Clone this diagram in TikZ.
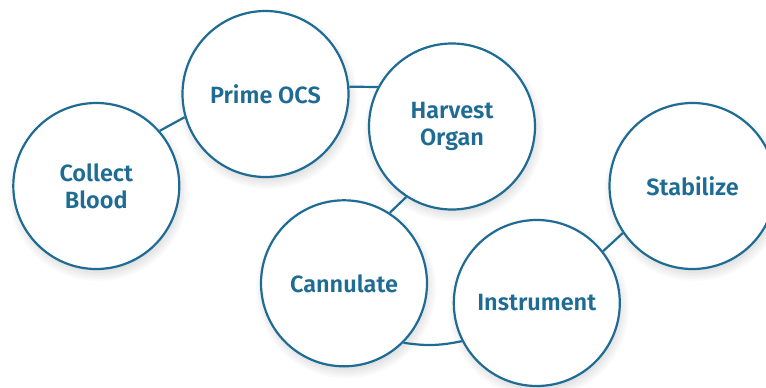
\documentclass[tikz,border=0pt]{standalone}
\usepackage{fontspec}
\setmainfont{Fira Sans}[BoldFont={Fira Sans SemiBold}]
\definecolor{teal}{RGB}{30,108,148}
\tikzset{
  stage/.style={circle, draw=teal, line width=2.2pt, fill=white, minimum size=166pt, inner sep=0pt,
    text=teal, font=\bfseries\fontsize{23.5}{26.7}\selectfont, align=center},
  link/.style={draw=teal, line width=2.2pt},
  shade/.style={fill=black, fill opacity=0.018, draw=none}
}
\begin{document}
\begin{tikzpicture}[x=1pt,y=-1pt]
\useasboundingbox[fill=white] (0,0) rectangle (766,388);
% soft shadows
\foreach \cx/\cy in {96.3/186, 265.5/94, 452/126.5, 344/283.3, 536.8/303, 692.5/186}{
  \foreach \r in {80,82,84,86,88,90}{
    \fill[shade] (\cx+2,\cy+5) circle[radius=\r];
  }
}
\node[stage] (collect) at (96.3,186) {Collect\\Blood};
\node[stage] (prime) at (265.5,94) {Prime OCS};
\node[stage] (harvest) at (452,126.5) {Harvest\\Organ};
\node[stage] (cannulate) at (344,283.3) {Cannulate};
\node[stage] (instrument) at (536.8,303) {Instrument};
\node[stage] (stabilize) at (692.5,186) {Stabilize};
\draw[link] (collect.41.3) -- (prime.196.2);
\draw[link] (prime.5) -- (harvest.152);
\draw[link] (harvest.237.3) -- (cannulate.57.3);
\draw[link] (cannulate.-45) to[bend right=10] (instrument.207.9);
\draw[link] (instrument.38.7) -- (stabilize.214.4);
\end{tikzpicture}
\end{document}
